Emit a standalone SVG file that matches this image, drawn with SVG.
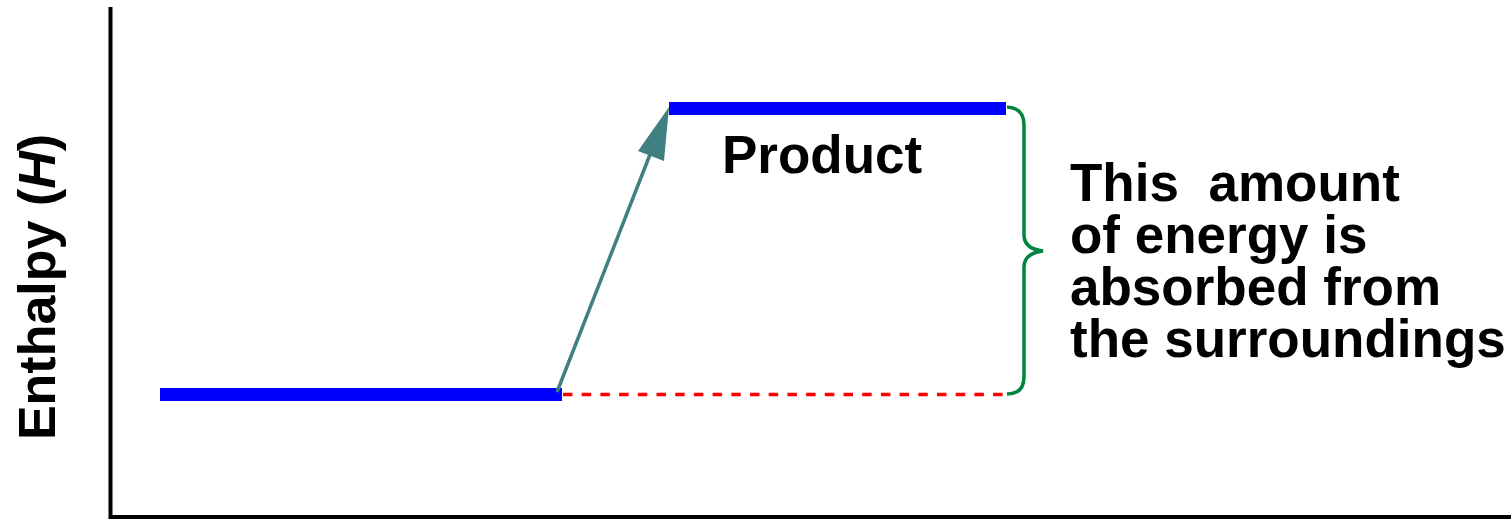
<svg xmlns="http://www.w3.org/2000/svg" width="1511" height="519" viewBox="0 0 1511 519">
<style>
.lbl{font-family:"Liberation Sans",Arial,sans-serif;font-weight:bold;fill:#000;}
.level{fill:#0000ff;}
.axis{stroke:#000;stroke-width:4;fill:none;}
</style>
<rect width="1511" height="519" fill="#fff"/>
<g id="axes">
<path class="axis" d="M110.5,7 L110.5,517 L1511,517"/>
<text class="lbl" font-size="52" text-anchor="middle" transform="translate(55,287) rotate(-90)">Enthalpy (<tspan font-style="italic">H</tspan>)</text>
</g>
<g id="reactant">
<rect class="level" x="160" y="388" width="402" height="13"/>
</g>
<g id="product">
<rect class="level" x="669" y="102" width="337" height="13"/>
<text class="lbl" font-size="53" x="722" y="173">Product</text>
</g>
<g id="connectors">
<line x1="563" y1="394.5" x2="1006" y2="394.5" stroke="#ff0000" stroke-width="3.5" stroke-dasharray="9.5 9.2"/>
<line x1="557" y1="392" x2="651" y2="152" stroke="#408080" stroke-width="3.5"/>
<polygon points="669,107 638,151 664,161" fill="#408080"/>
<path d="M1007,107 Q1024,108 1024,125 L1024,236 Q1025,249 1043,251 Q1025,253 1024,266 L1024,377 Q1024,394 1007,394" fill="none" stroke="#00843f" stroke-width="3.5"/>
</g>
<g id="note">
<text class="lbl" font-size="53" x="1070" y="201" xml:space="preserve">This  amount</text>
<text class="lbl" font-size="53" x="1070" y="253">of energy is</text>
<text class="lbl" font-size="53" x="1070" y="305">absorbed from</text>
<text class="lbl" font-size="53" x="1070" y="357">the surroundings</text>
</g>
</svg>
